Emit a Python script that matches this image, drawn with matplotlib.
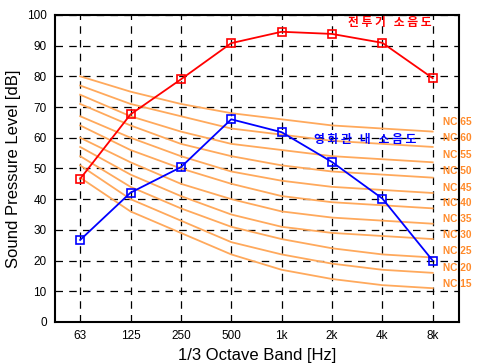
import matplotlib
matplotlib.use('Agg')
import matplotlib.pyplot as plt

plt.rcParams['font.family'] = ['Liberation Sans', 'Noto Sans CJK KR', 'DejaVu Sans']

bands = ['63', '125', '250', '500', '1k', '2k', '4k', '8k']
fighter = [46.6, 67.6, 79.0, 90.8, 94.5, 93.8, 90.9, 79.4]   # 전투기 소음도
cinema = [26.7, 42.1, 50.4, 66.0, 61.8, 52.1, 40.2, 20.0]     # 영화관 내 소음도

# NC curves
nc_levels = [15, 20, 25, 30, 35, 40, 45, 50, 55, 60, 65]
nc_curves = [
    [47, 36, 29, 22, 17, 14, 12, 11],
    [51, 40, 33, 26, 22, 19, 17, 16],
    [54, 44, 37, 31, 27, 24, 22, 21],
    [57, 48, 41, 35, 31, 29, 28, 27],
    [60, 52, 45, 40, 36, 34, 33, 32],
    [64, 56, 50, 45, 41, 39, 38, 37],
    [67, 60, 54, 49, 46, 44, 43, 42],
    [71, 64, 58, 54, 51, 49, 48, 47],
    [74, 67, 62, 58, 56, 54, 53, 52],
    [77, 71, 67, 63, 61, 59, 58, 57],
    [80, 75, 71, 68, 66, 64, 63, 62],
]
nc_label_y = [12.4, 17.7, 23.0, 28.3, 33.5, 38.7, 43.6, 49.3, 54.4, 60.0, 65.0]

fig = plt.figure(figsize=(4.78, 3.63), dpi=100)
ax = fig.add_axes([0.115, 0.113, 0.845, 0.846])
x = list(range(len(bands)))

for c in nc_curves:
    ax.plot(x, c, color='#ffa95c', lw=1.3, zorder=2)
for lv, yy in zip(nc_levels, nc_label_y):
    ax.text(7.2, yy, 'NC %d' % lv, color='#ff8a2a', fontsize=7.3,
            fontweight='bold', va='center', ha='left', zorder=5)

ax.plot(x, fighter, color='red', lw=1.3, marker='s', ms=6, mfc='none',
        mec='red', mew=1.2, zorder=4)
ax.plot(x, cinema, color='blue', lw=1.3, marker='s', ms=6, mfc='none',
        mec='blue', mew=1.2, zorder=4)

ax.text(6.97, 97.5, '전 투 기   소 음 도', color='red', fontsize=8.5, fontweight='bold',
        family=['Noto Sans CJK KR'], ha='right', va='center')
ax.text(5.65, 59.3, '영 화 관   내   소 음 도', color='blue', fontsize=8.5, fontweight='bold',
        family=['Noto Sans CJK KR'], ha='center', va='center')

ax.set_xlim(-0.5, 7.52)
ax.set_ylim(0, 100)
ax.set_xticks(x)
ax.set_xticklabels(bands)
ax.set_yticks(range(0, 101, 10))
ax.tick_params(length=0, labelsize=8.5, pad=6)
ax.grid(True, color='black', linestyle=(0, (6, 5)), lw=0.9)
for s in ax.spines.values():
    s.set_linewidth(1.5)
ax.set_xlabel('1/3 Octave Band [Hz]', fontsize=12, labelpad=4)
ax.set_ylabel('Sound Pressure Level [dB]', fontsize=12, labelpad=4)

plt.savefig('out.png', dpi=100)
